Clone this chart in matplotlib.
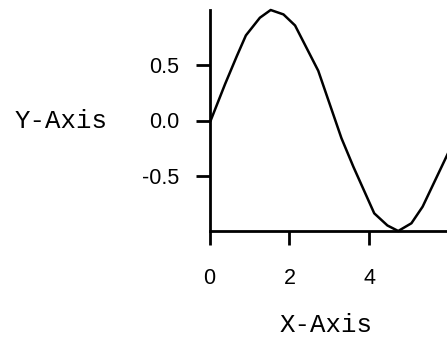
import matplotlib
matplotlib.use('Agg')
import matplotlib.pyplot as plt

# sampled points of the curve
x_vals = [0.03, 0.39, 0.68, 0.91, 1.26, 1.53, 1.85, 2.14, 2.72, 3.30, 3.60,
          4.12, 4.45, 4.72, 5.05, 5.33, 6.00]
y_vals = [0.00, 0.33, 0.58, 0.77, 0.93, 1.00, 0.96, 0.86, 0.45, -0.16, -0.42,
          -0.84, -0.95, -1.00, -0.93, -0.78, -0.27]

x_ticks = [0, 2, 4]
y_ticks = [-0.5, 0.0, 0.5]

fig = plt.figure(figsize=(4.47, 3.39), dpi=100)
ax = fig.add_axes([209.5 / 447, 108 / 339, 237.5 / 447, 221 / 339])

ax.plot(x_vals, y_vals, color='black', lw=1.8, clip_on=False)
ax.set_xlim(0, 5.94)
ax.set_ylim(-1.0, 1.0)

for side in ['top', 'right']:
    ax.spines[side].set_visible(False)
for side in ['left', 'bottom']:
    ax.spines[side].set_linewidth(2.0)

ax.set_xticks(x_ticks)
ax.set_yticks(y_ticks)
ax.set_yticklabels([f'{v:.1f}' for v in y_ticks])
ax.tick_params(axis='both', direction='out', length=10, width=2.0,
               labelsize=15.5)
ax.tick_params(axis='y', pad=12)
ax.tick_params(axis='x', pad=17)
for lab in ax.get_xticklabels() + ax.get_yticklabels():
    lab.set_fontfamily('Liberation Sans')

ax.set_xlabel('X-Axis', fontfamily='Liberation Mono', fontsize=18.5,
              va='top')
ax.xaxis.set_label_coords(0.49, -0.37)
ax.set_ylabel('Y-Axis', fontfamily='Liberation Mono', fontsize=18.5,
              rotation=0, ha='center', va='center')
ax.yaxis.set_label_coords(-0.625, 0.5)

fig.savefig('out.png', dpi=100)
